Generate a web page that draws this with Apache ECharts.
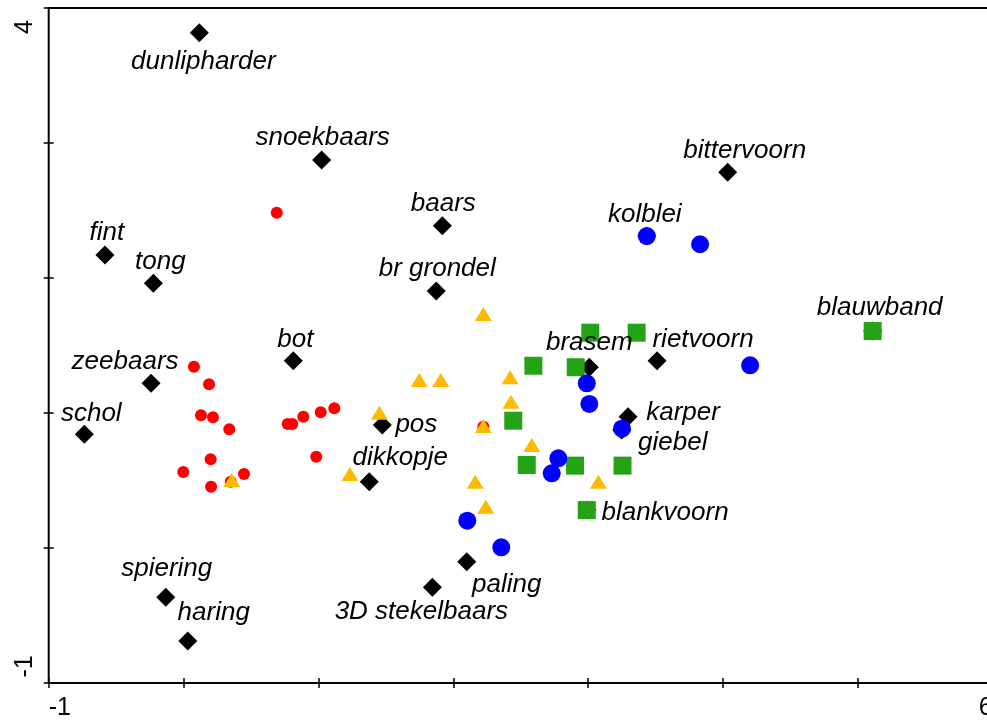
<!DOCTYPE html>
<html>
<head>
<meta charset="utf-8">
<script src="https://cdn.jsdelivr.net/npm/echarts@6/dist/echarts.min.js"></script>
<style>
  html, body { margin: 0; padding: 0; background: #fff; }
  #chart { width: 987px; height: 720px; }
</style>
</head>
<body>
<div id="chart"></div>
<script>
// Species scores (black diamonds, labelled)
const speciesNames = ['dunlipharder', 'snoekbaars', 'baars', 'bittervoorn', 'fint', 'tong', 'br grondel',
  'kolblei', 'blauwband', 'bot', 'zeebaars', 'brasem', 'rietvoorn', 'schol', 'pos', 'karper', 'giebel',
  'dikkopje', 'blankvoorn', 'paling', '3D stekelbaars', 'spiering', 'haring'];
const speciesX = [0.117, 1.024, 1.919, 4.035, -0.583, -0.224, 1.874, 3.435, 5.110, 0.814, -0.241, 3.009,
  3.511, -0.736, 1.474, 3.296, 3.249, 1.377, 2.992, 2.100, 1.845, -0.132, 0.031];
const speciesY = [3.817, 2.874, 2.387, 2.783, 2.170, 1.961, 1.904, 2.311, 1.607, 1.387, 1.220, 1.339,
  1.387, 0.842, 0.911, 0.973, 0.874, 0.491, 0.281, -0.101, -0.291, -0.365, -0.689];

// Sample scores, one group per symbol
const redX = [0.691, 0.077, 0.189, 0.129, 0.218, 0.339, 0.201, -0.002, 0.448, 0.204, 0.350, 0.772, 0.806,
  0.888, 1.017, 1.118, 0.984, 2.223];
const redY = [2.484, 1.343, 1.213, 0.983, 0.968, 0.879, 0.657, 0.563, 0.548, 0.454, 0.491, 0.919, 0.919,
  0.973, 1.005, 1.035, 0.676, 0.899];

const yellowX = [2.223, 1.748, 1.907, 2.421, 2.428, 2.223, 2.582, 2.163, 2.241, 3.076, 2.445, 1.452, 1.234, 0.357];
const yellowY = [1.733, 1.244, 1.244, 1.264, 1.084, 0.904, 0.763, 0.491, 0.306, 0.491, 0.941, 1.002, 0.548, 0.504];

const greenX = [3.016, 3.360, 2.908, 2.594, 2.445, 2.545, 2.903, 3.255, 2.990, 5.110];
const greenY = [1.595, 1.595, 1.339, 1.350, 0.943, 0.615, 0.610, 0.610, 0.281, 1.607];

const blueX = [3.435, 3.830, 4.201, 2.990, 3.009, 3.251, 2.779, 2.730, 2.104, 2.356];
const blueY = [2.311, 2.250, 1.353, 1.220, 1.067, 0.884, 0.664, 0.553, 0.202, 0.005];

// Axis ranges and the tick values that carry a label
const xRange = [-1, 6];
const yRange = [-1, 4];
const xLabelValues = [-1, 6];
const yLabelValues = [-1, 4];

// Label placement (pixel offset from each diamond), layout only
const speciesLabelOffset = [[4, 29], [1, -22], [1, -22], [17, -22], [2, -22], [7, -21], [1, -22],
  [-2, -21], [7, -23], [2, -21], [-26, -22], [0, -24], [46, -21], [7, -21], [34, 0], [55, -4], [51, 13],
  [31, -24], [78, 3], [40, 23], [-11, 24], [1, -29], [26, -28]];

const FONT = '"Liberation Sans", Arial, Helvetica, sans-serif';
const zip = (xs, ys) => xs.map((x, i) => [x, ys[i]]);

const chart = echarts.init(document.getElementById('chart'), null, { renderer: 'canvas' });

// The frame lines come from the grid border; each axis sits 5px outside the frame
// and draws 10px inward ticks, so the ticks cross the frame line.
const TICK_HALF = 5;
const tickStyle = { color: '#000', width: 1.5 };

const xAxisOpt = {
  type: 'value', min: xRange[0], max: xRange[1], interval: 1, position: 'bottom',
  offset: TICK_HALF,
  axisLine: { show: false, onZero: false },
  axisTick: { show: true, inside: true, length: TICK_HALF * 2, lineStyle: tickStyle },
  splitLine: { show: false },
  axisLabel: {
    show: true, margin: 8, fontSize: 25, color: '#000', fontFamily: FONT,
    showMinLabel: true, showMaxLabel: true,
    alignMinLabel: 'left', alignMaxLabel: 'right',
    formatter: v => (xLabelValues.includes(v) ? String(v) : '')
  }
};

const yAxisOpt = {
  type: 'value', min: yRange[0], max: yRange[1], interval: 1, position: 'left',
  offset: TICK_HALF,
  axisLine: { show: false, onZero: false },
  axisTick: { show: true, inside: true, length: TICK_HALF * 2, lineStyle: tickStyle },
  splitLine: { show: false },
  axisLabel: {
    show: true, rotate: 90, margin: 6, fontSize: 25, color: '#000', fontFamily: FONT,
    showMinLabel: true, showMaxLabel: true,
    formatter: v => {
      if (v === yLabelValues[1]) return '{hi|' + v + '}';
      if (v === yLabelValues[0]) return '{lo|' + v + '}';
      return '';
    },
    rich: {
      hi: { fontSize: 25, color: '#000', fontFamily: FONT, padding: [0, 38, 0, 0] },
      lo: { fontSize: 25, color: '#000', fontFamily: FONT, padding: [0, 0, 0, 33] }
    }
  }
};

function sampleSeries(xs, ys, symbol, size, color) {
  return {
    type: 'scatter', symbol: symbol, symbolSize: size,
    itemStyle: { color: color, opacity: 1 },
    emphasis: { disabled: true },
    data: zip(xs, ys)
  };
}

const option = {
  animation: false,
  backgroundColor: '#fff',
  grid: {
    left: 48.7, top: 8, width: 944, height: 675,
    outerBoundsMode: 'none', containLabel: false,
    show: true, borderColor: '#000', borderWidth: 2, backgroundColor: 'transparent'
  },
  xAxis: xAxisOpt,
  yAxis: yAxisOpt,
  series: [
    {
      type: 'scatter', symbol: 'diamond', symbolSize: 19,
      itemStyle: { color: '#000', opacity: 1 },
      emphasis: { disabled: true },
      label: {
        show: true, position: 'inside', formatter: '{b}',
        fontStyle: 'italic', fontSize: 26, fontFamily: FONT, color: '#000',
        textBorderWidth: 0, align: 'center', verticalAlign: 'middle'
      },
      data: speciesNames.map((n, i) => ({
        name: n,
        value: [speciesX[i], speciesY[i]],
        label: { offset: speciesLabelOffset[i] }
      }))
    },
    sampleSeries(redX, redY, 'circle', 12, '#ff0000'),
    sampleSeries(yellowX, yellowY, 'triangle', [17, 14], '#ffb900'),
    sampleSeries(greenX, greenY, 'rect', 18, '#24a317'),
    sampleSeries(blueX, blueY, 'circle', 18, '#0000ff')
  ]
};

chart.setOption(option);
</script>
</body>
</html>
